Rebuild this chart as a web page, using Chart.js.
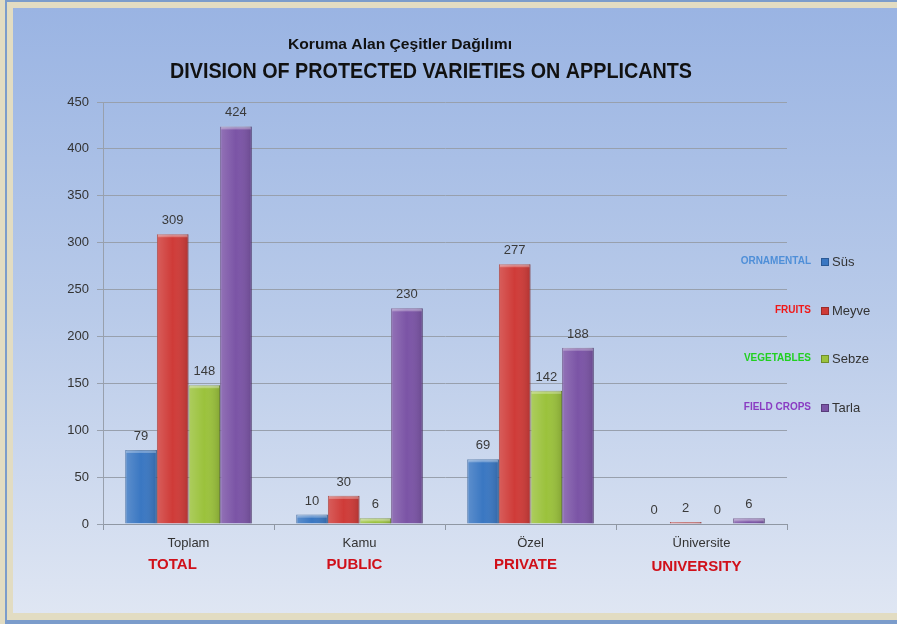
<!DOCTYPE html>
<html>
<head>
<meta charset="utf-8">
<script src="https://cdn.jsdelivr.net/npm/chart.js@4"></script>
<style>
  html, body { margin: 0; padding: 0; }
  body { width: 897px; height: 624px; background: #e2dcc2; position: relative; overflow: hidden; }
  #frame { position: absolute; left: 5px; top: 0; width: 892px; height: 624px;
           border-left: 2px solid #7b9ccb; border-top: 2px solid #7b9ccb; border-bottom: 4px solid #7b9ccb; box-sizing: border-box; }
  #box { position: absolute; left: 13px; top: 8px; width: 884px; height: 605px;
         background: linear-gradient(to bottom, #9ab4e3 0%, #b8cae9 50%, #dfe6f3 100%); }
</style>
</head>
<body>
<div id="frame"></div>
<div id="box"><canvas id="myChart"></canvas></div>
<script>
// veriler
var categories = ['Toplam', 'Kamu', 'Özel', 'Üniversite'];
var categoriesEn = ['TOTAL', 'PUBLIC', 'PRIVATE', 'UNIVERSITY'];
var seriesNames = ['Süs', 'Meyve', 'Sebze', 'Tarla'];
var seriesNamesEn = ['ORNAMENTAL', 'FRUITS', 'VEGETABLES', 'FIELD CROPS'];
var susValues = [79, 10, 69, 0];
var meyveValues = [309, 30, 277, 2];
var sebzeValues = [148, 6, 142, 0];
var tarlaValues = [424, 230, 188, 6];
var yMax = 450;
var yStep = 50;

var barColors = ['#3a77c2', '#cf3b38', '#9bc23c', '#7b54a6'];
var borderColors = ['#2b5a96', '#9c2b29', '#6f8d2a', '#583c7a'];
var enColors = ['#4f8fd8', '#f01818', '#20d020', '#8a3cc2'];
var font = '"Liberation Sans", sans-serif';

// metni verilen genişliğe sıkıştırarak yaz (Calibri benzeri dar görünüm)
function narrowText(ctx, text, x, y, width) {
    var w = ctx.measureText(text).width;
    var k = width / w;
    ctx.save();
    ctx.translate(x, y);
    ctx.scale(k, 1);
    ctx.fillText(text, 0, 0);
    ctx.restore();
}

var extras = {
    id: 'extras',
    afterDatasetsDraw: function (chart) {
        var ctx = chart.ctx;
        ctx.save();
        chart.data.datasets.forEach(function (ds, i) {
            var meta = chart.getDatasetMeta(i);
            meta.data.forEach(function (bar, j) {
                var left = bar.x - bar.width / 2;
                var top = Math.min(bar.y, bar.base);
                var h = Math.abs(bar.base - bar.y);
                if (h > 0) {
                    // biraz 3D görünüm
                    var g = ctx.createLinearGradient(left, 0, left + bar.width, 0);
                    g.addColorStop(0, 'rgba(255,255,255,0.18)');
                    g.addColorStop(0.5, 'rgba(255,255,255,0)');
                    g.addColorStop(1, 'rgba(0,0,0,0.15)');
                    ctx.fillStyle = g;
                    ctx.fillRect(left, top, bar.width, h);
                    ctx.fillStyle = 'rgba(255,255,255,0.3)';
                    ctx.fillRect(left + 1, top, bar.width - 2, Math.min(3, h));
                }
                ctx.fillStyle = '#3a3a3a';
                ctx.font = '13px ' + font;
                ctx.textAlign = 'center';
                ctx.textBaseline = 'bottom';
                ctx.fillText(ds.data[j], bar.x, bar.y - 7);
            });
        });
        ctx.restore();
    },
    afterDraw: function (chart) {
        var ctx = chart.ctx;
        var xs = chart.scales.x;
        ctx.save();
        ctx.textBaseline = 'middle';
        ctx.textAlign = 'center';
        ctx.fillStyle = '#111';
        ctx.font = 'bold 15px ' + font;
        narrowText(ctx, 'Koruma Alan Çeşitler Dağılımı', 387, 37, 224);
        ctx.font = 'bold 22px ' + font;
        narrowText(ctx, 'DIVISION OF PROTECTED VARIETIES ON APPLICANTS', 418, 64, 522);

        // ingilizce kategori adları
        ctx.font = 'bold 15px ' + font;
        ctx.fillStyle = '#d0101a';
        categoriesEn.forEach(function (t, i) {
            var x = xs.getPixelForValue(i) - (i === 0 ? 16 : 5);
            ctx.fillText(t, x, i === 3 ? 559 : 557);
        });

        // lejant
        var rows = [254, 303, 351, 400];
        chart.data.datasets.forEach(function (ds, i) {
            var y = rows[i];
            ctx.fillStyle = ds.backgroundColor;
            ctx.fillRect(808, y - 4, 8, 8);
            ctx.strokeStyle = ds.borderColor;
            ctx.lineWidth = 1;
            ctx.strokeRect(808.5, y - 3.5, 7, 7);
            ctx.fillStyle = '#333';
            ctx.textAlign = 'left';
            ctx.font = '13px ' + font;
            ctx.fillText(ds.label, 819, y);
            ctx.textAlign = 'right';
            ctx.font = 'bold 10px ' + font;
            ctx.fillStyle = enColors[i];
            ctx.fillText(seriesNamesEn[i], 798, y - 1);
        });
        ctx.restore();
    }
};

var valueLists = [susValues, meyveValues, sebzeValues, tarlaValues];
var datasets = seriesNames.map(function (name, i) {
    return {
        label: name,
        data: valueLists[i],
        backgroundColor: barColors[i],
        borderColor: borderColors[i],
        borderWidth: 1,
        categoryPercentage: 0.74,
        barPercentage: 1.0
    };
});

var ctx = document.getElementById('myChart').getContext('2d');
var myChart = new Chart(ctx, {
    type: 'bar',
    data: { labels: categories, datasets: datasets },
    plugins: [extras],
    options: {
        responsive: true,
        maintainAspectRatio: false,
        animation: false,
        layout: { padding: { top: 94, right: 110, bottom: 0, left: 0 } },
        plugins: {
            legend: { display: false },
            title: { display: false },
            tooltip: { enabled: false }
        },
        scales: {
            x: {
                afterFit: function (s) { s.height = 89; },
                grid: { drawOnChartArea: false, offset: true, color: '#8f97a3', tickLength: 6 },
                border: { color: '#8f97a3' },
                ticks: { color: '#333', padding: 6, font: { family: font, size: 13 } }
            },
            y: {
                min: 0,
                max: yMax,
                afterFit: function (s) { s.width = 90; },
                grid: { color: '#98a0ad', tickLength: 6 },
                border: { color: '#98a0ad' },
                ticks: { stepSize: yStep, color: '#333', padding: 8, font: { family: font, size: 13 } }
            }
        }
    }
});
</script>
</body>
</html>
